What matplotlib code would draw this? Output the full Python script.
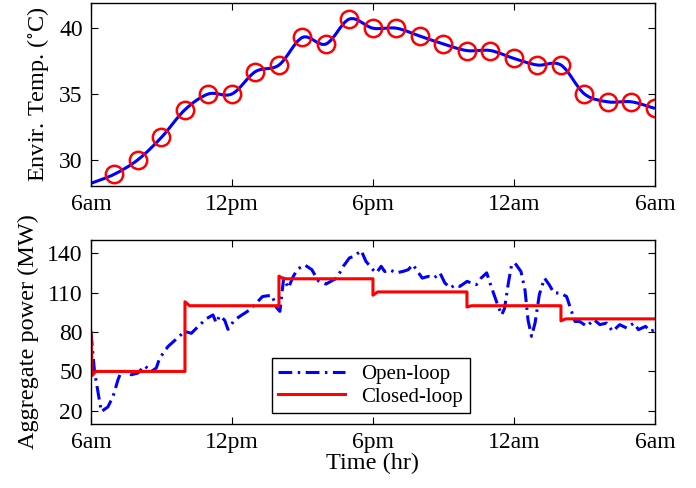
import numpy as np
import matplotlib
matplotlib.use("Agg")
import matplotlib.pyplot as plt
from matplotlib.path import Path
from matplotlib.patches import PathPatch

plt.rcParams['font.family'] = ['Liberation Serif', 'DejaVu Serif']
plt.rcParams['mathtext.fontset'] = 'stix'

# hours after 6am
tick_hours = [0, 6, 12, 18, 24]
tick_labels = ['6am', '12pm', '6pm', '12am', '6am']

# environment temperature (hour 0 is line start only, markers at 1..24)
temp_hours = list(range(25))
temp_vals = [28.2, 28.9, 30.0, 31.7, 33.8, 35.0, 35.0, 36.7, 37.2, 39.3, 38.8, 40.7, 40.0,
             40.0, 39.4, 38.8, 38.3, 38.3, 37.7, 37.2, 37.2, 35.0, 34.4, 34.4, 33.9]

# aggregate power, open-loop
ol_hours = [0, 0.15, 0.44, 0.72, 0.94, 1.15, 1.29, 1.5, 1.72, 2.0, 2.28, 2.57, 2.78, 2.92,
            3.28, 3.59, 3.99, 4.27, 4.55, 4.9, 5.19, 5.33, 5.48, 5.69, 5.83, 6.1, 6.34, 6.77,
            7.3, 7.7, 7.9, 8.04, 8.2, 8.4, 8.6, 8.8, 9.1, 9.4, 9.67, 10.0, 10.46, 10.74, 11.0,
            11.2, 11.5, 11.7, 12.0, 12.15, 12.35, 12.5, 12.7, 13.0, 13.3, 13.5, 13.7, 13.9,
            14.1, 14.35, 14.6, 14.85, 15.06, 15.3, 15.5, 15.7, 16.0, 16.2, 16.4, 16.6, 16.84,
            16.98, 17.2, 17.33, 17.48, 17.6, 17.76, 17.9, 18.04, 18.3, 18.47, 18.6, 18.75,
            18.9, 19.08, 19.3, 19.5, 19.7, 19.96, 20.24, 20.45, 20.6, 20.8, 21.1, 21.4, 21.66,
            21.94, 22.2, 22.5, 22.8, 23.1, 23.3, 23.6, 23.8, 24.0]
ol_power = [80, 50, 19.5, 23, 31, 43.7, 50, 50, 47.5, 48.8, 54.3, 50, 52.6, 60,
            69, 74, 80.5, 79, 84, 90, 93, 87, 92.4, 89, 82, 89, 92, 97,
            107, 108, 98.5, 95.7, 121, 113.5, 122, 128, 131, 127.4, 119, 116.5, 121, 130, 136.4,
            137.6, 142, 133.8, 127.4, 125, 130, 126, 127.4, 125, 126.2, 127.4, 131.3, 126,
            121, 122.3, 121, 125, 117.3, 113.5, 116, 114.7, 118.5, 117.3, 116, 121, 125,
            117.3, 106, 99.5, 93, 98, 117, 131, 132.5, 126, 112, 89, 76.7,
            87, 108.4, 121, 116, 109.7, 109.7, 107, 95.7, 88, 88, 84.3, 89.4, 85.6,
            86.8, 80.5, 85.6, 83, 86.8, 81.8, 84.3, 80.5, 81.8]

# aggregate power, closed-loop
cl_hours = [0, 0.05, 0.2, 4, 4, 4.2, 8, 8, 8.2, 12, 12, 12.2, 16, 16, 16.2, 20, 20, 20.2, 24]
cl_power = [80, 47, 50, 50, 103, 100, 100, 122.5, 120.5, 120.5, 108, 110.5, 110.5, 99, 100,
            100, 88.5, 90, 90]


def smooth_path(x, y):
    # Catmull-Rom through the points, drawn as cubic Bezier segments
    x = np.asarray(x, float)
    y = np.asarray(y, float)
    p = np.column_stack([x, y])
    m = np.zeros_like(p)
    m[1:-1] = (p[2:] - p[:-2]) / 2
    m[0] = p[1] - p[0]
    m[-1] = p[-1] - p[-2]
    verts = [p[0]]
    codes = [Path.MOVETO]
    for i in range(len(p) - 1):
        verts += [p[i] + m[i] / 3, p[i + 1] - m[i + 1] / 3, p[i + 1]]
        codes += [Path.CURVE4] * 3
    return Path(verts, codes)


def style_axes(ax):
    ax.set_xlim(0, 24)
    ax.set_xticks(tick_hours)
    ax.set_xticklabels(tick_labels)
    ax.tick_params(direction='in', top=True, right=True, length=5, width=0.8,
                   labelsize=17, pad=6)
    for s in ax.spines.values():
        s.set_linewidth(1.0)


fig = plt.figure(figsize=(6.96, 4.88), dpi=100)
ax1 = fig.add_axes([0.1307, 0.6189, 0.8103, 0.375])
ax2 = fig.add_axes([0.1307, 0.1311, 0.8103, 0.3771])

# top: temperature
ax1.add_patch(PathPatch(smooth_path(temp_hours, temp_vals), fc='none', ec='b', lw=2.2))
ax1.plot(temp_hours[1:], temp_vals[1:], 'o', ms=12.5, mfc='none', mec='r', mew=1.8)
ax1.set_ylim(28, 41.92)
ax1.set_yticks([30, 35, 40])
style_axes(ax1)
ax1.set_ylabel(r'Envir. Temp. ($^{\circ}$C)', fontsize=17.5, labelpad=6)

# bottom: power
ax2.plot(ol_hours, ol_power, color='b', lw=2.2, ls=(0, (4.5, 1.8, 0.8, 1.8)), label='Open-loop')
ax2.plot(cl_hours, cl_power, color='r', lw=2.2, label='Closed-loop')
ax2.set_ylim(10, 150)
ax2.set_yticks([20, 50, 80, 110, 140])
style_axes(ax2)
ax2.set_ylabel('Aggregate power (MW)', fontsize=17.5, labelpad=6)
ax2.set_xlabel('Time (hr)', fontsize=17.5, labelpad=0)
leg = ax2.legend(loc='lower left', bbox_to_anchor=(0.321, 0.06), fontsize=15, fancybox=False,
                 framealpha=1, edgecolor='k', borderaxespad=0, handlelength=3.2,
                 labelspacing=0.15, borderpad=0.3)
leg.get_frame().set_linewidth(1.0)

fig.savefig('out.png', dpi=100)
